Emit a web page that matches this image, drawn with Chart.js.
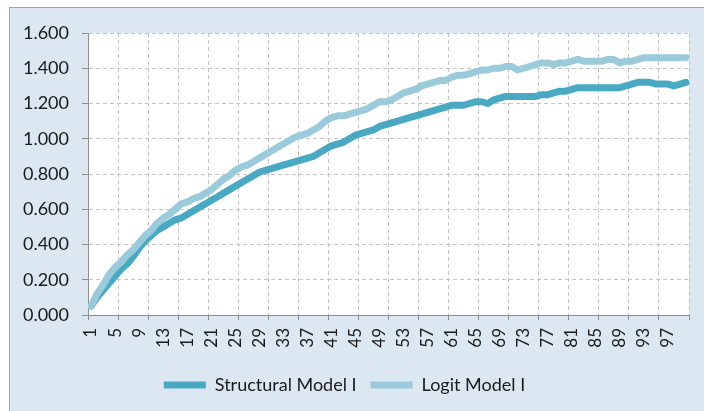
<!DOCTYPE html>
<html>
<head>
<meta charset="utf-8">
<script src="https://cdn.jsdelivr.net/npm/chart.js@4/dist/chart.umd.min.js"></script>
<style>
    html, body { margin: 0; padding: 0; background: #ffffff; }
    #wrap { width: 704px; height: 411px; }
</style>
</head>
<body>
<div id="wrap"><canvas id="modelChart" width="704" height="411"></canvas></div>
<script>
// categories 1..100
const categories = [
    1, 2, 3, 4, 5, 6, 7, 8, 9, 10, 11, 12, 13, 14, 15, 16, 17, 18, 19, 20,
    21, 22, 23, 24, 25, 26, 27, 28, 29, 30, 31, 32, 33, 34, 35, 36, 37, 38, 39, 40,
    41, 42, 43, 44, 45, 46, 47, 48, 49, 50, 51, 52, 53, 54, 55, 56, 57, 58, 59, 60,
    61, 62, 63, 64, 65, 66, 67, 68, 69, 70, 71, 72, 73, 74, 75, 76, 77, 78, 79, 80,
    81, 82, 83, 84, 85, 86, 87, 88, 89, 90, 91, 92, 93, 94, 95, 96, 97, 98, 99, 100
];

const structuralModel = [
    0.05, 0.10, 0.14, 0.18, 0.22, 0.26, 0.29, 0.33, 0.38, 0.42,
    0.45, 0.48, 0.50, 0.52, 0.54, 0.55, 0.57, 0.59, 0.61, 0.63,
    0.65, 0.67, 0.69, 0.71, 0.73, 0.75, 0.77, 0.79, 0.81, 0.82,
    0.83, 0.84, 0.85, 0.86, 0.87, 0.88, 0.89, 0.90, 0.92, 0.94,
    0.96, 0.97, 0.98, 1.00, 1.02, 1.03, 1.04, 1.05, 1.07, 1.08,
    1.09, 1.10, 1.11, 1.12, 1.13, 1.14, 1.15, 1.16, 1.17, 1.18,
    1.19, 1.19, 1.19, 1.20, 1.21, 1.21, 1.20, 1.22, 1.23, 1.24,
    1.24, 1.24, 1.24, 1.24, 1.24, 1.25, 1.25, 1.26, 1.27, 1.27,
    1.28, 1.29, 1.29, 1.29, 1.29, 1.29, 1.29, 1.29, 1.29, 1.30,
    1.31, 1.32, 1.32, 1.32, 1.31, 1.31, 1.31, 1.30, 1.31, 1.32
];

const logitModel = [
    0.05, 0.12, 0.17, 0.23, 0.27, 0.30, 0.34, 0.37, 0.41, 0.45,
    0.48, 0.52, 0.55, 0.57, 0.60, 0.63, 0.64, 0.66, 0.67, 0.69,
    0.71, 0.74, 0.77, 0.79, 0.82, 0.84, 0.85, 0.87, 0.89, 0.91,
    0.93, 0.95, 0.97, 0.99, 1.01, 1.02, 1.03, 1.05, 1.07, 1.10,
    1.12, 1.13, 1.13, 1.14, 1.15, 1.16, 1.17, 1.19, 1.21, 1.21,
    1.22, 1.24, 1.26, 1.27, 1.28, 1.30, 1.31, 1.32, 1.33, 1.33,
    1.35, 1.36, 1.36, 1.37, 1.38, 1.39, 1.39, 1.40, 1.40, 1.41,
    1.41, 1.39, 1.40, 1.41, 1.42, 1.43, 1.43, 1.42, 1.43, 1.43,
    1.44, 1.45, 1.44, 1.44, 1.44, 1.44, 1.45, 1.45, 1.43, 1.44,
    1.44, 1.45, 1.46, 1.46, 1.46, 1.46, 1.46, 1.46, 1.46, 1.46
];

// x labels shown under the axis, gridlines every 5 categories
const xTickLabels = [1, 5, 9, 13, 17, 21, 25, 29, 33, 37, 41, 45, 49, 53, 57, 61, 65, 69, 73, 77, 81, 85, 89, 93, 97];
const xGridBoundaries = [0.5, 5.5, 10.5, 15.5, 20.5, 25.5, 30.5, 35.5, 40.5, 45.5, 50.5,
    55.5, 60.5, 65.5, 70.5, 75.5, 80.5, 85.5, 90.5, 95.5, 100.5];

const seriesNames = ['Structural Model I', 'Logit Model I'];

const GRID_COLOR = '#c4c4c4';
const AXIS_COLOR = '#8e8e8e';
const FONT = "Lato, 'Open Sans', sans-serif";

function toPoints(values) {
    return values.map((v, i) => ({ x: categories[i], y: v }));
}

// frame + white plot area like the Excel chart
const backgroundPlugin = {
    id: 'excelBackground',
    beforeDraw(chart) {
        const ctx = chart.ctx;
        const area = chart.chartArea;
        ctx.save();
        ctx.fillStyle = '#ffffff';
        ctx.fillRect(0, 0, chart.width, chart.height);
        ctx.fillStyle = '#dde7f2';
        ctx.fillRect(9.5, 7.5, chart.width + 10, chart.height + 10);
        ctx.strokeStyle = '#a6a6a6';
        ctx.lineWidth = 1;
        ctx.strokeRect(9.5, 7.5, chart.width + 10, chart.height + 10);
        ctx.fillStyle = '#ffffff';
        ctx.fillRect(area.left, area.top, area.right - area.left, area.bottom - area.top);
        ctx.restore();
    }
};

function isGridTick(value) {
    return !Number.isInteger(value);
}

new Chart(document.getElementById('modelChart'), {
    type: 'line',
    data: {
        datasets: [
            {
                label: seriesNames[0],
                data: toPoints(structuralModel),
                borderColor: '#4aa9c2',
                backgroundColor: '#4aa9c2',
                borderWidth: 7,
                borderCapStyle: 'round',
                borderJoinStyle: 'round',
                pointRadius: 0,
                order: 1,
            },
            {
                label: seriesNames[1],
                data: toPoints(logitModel),
                borderColor: '#9bcbdb',
                backgroundColor: '#9bcbdb',
                borderWidth: 7,
                borderCapStyle: 'round',
                borderJoinStyle: 'round',
                pointRadius: 0,
                order: 0,
            },
        ]
    },
    plugins: [backgroundPlugin],
    options: {
        responsive: false,
        animation: false,
        layout: {
            padding: { left: 0, right: 15, top: 33, bottom: 7 }
        },
        plugins: {
            tooltip: { enabled: false },
            legend: {
                position: 'bottom',
                labels: {
                    usePointStyle: true,
                    pointStyle: 'line',
                    pointStyleWidth: 42,
                    padding: 14,
                    color: '#1a1a1a',
                    font: { family: FONT, size: 18 },
                    sort: (a, b) => a.datasetIndex - b.datasetIndex,
                }
            }
        },
        scales: {
            x: {
                type: 'linear',
                min: 0.5,
                max: 100.5,
                afterBuildTicks: function (axis) {
                    const values = xGridBoundaries.concat(xTickLabels).sort((a, b) => a - b);
                    axis.ticks = values.map(v => ({ value: v }));
                },
                afterFit: function (axis) {
                    axis.height = 47;
                    // rotated labels would otherwise eat into the plot width
                    axis.paddingLeft = 0;
                    axis.paddingRight = 0;
                },
                ticks: {
                    autoSkip: false,
                    minRotation: 90,
                    maxRotation: 90,
                    padding: 8,
                    color: '#1a1a1a',
                    font: { family: FONT, size: 17 },
                    callback: v => isGridTick(v) ? '' : String(v),
                },
                grid: {
                    color: c => isGridTick(c.tick.value) ? GRID_COLOR : 'rgba(0,0,0,0)',
                    tickColor: c => isGridTick(c.tick.value) ? AXIS_COLOR : 'rgba(0,0,0,0)',
                    tickLength: 5,
                    tickBorderDash: [],
                    lineWidth: 1,
                },
                border: { display: true, color: AXIS_COLOR, width: 1, dash: [4, 3] },
            },
            y: {
                min: 0,
                max: 1.6,
                afterFit: function (axis) {
                    axis.width = 88;
                },
                ticks: {
                    stepSize: 0.2,
                    padding: 13,
                    color: '#1a1a1a',
                    font: { family: FONT, size: 18 },
                    callback: v => v.toFixed(3),
                },
                grid: {
                    color: GRID_COLOR,
                    tickColor: AXIS_COLOR,
                    tickLength: 6,
                    tickBorderDash: [],
                },
                border: { display: true, color: AXIS_COLOR, width: 1, dash: [4, 3] },
            }
        }
    }
});
</script>
</body>
</html>
